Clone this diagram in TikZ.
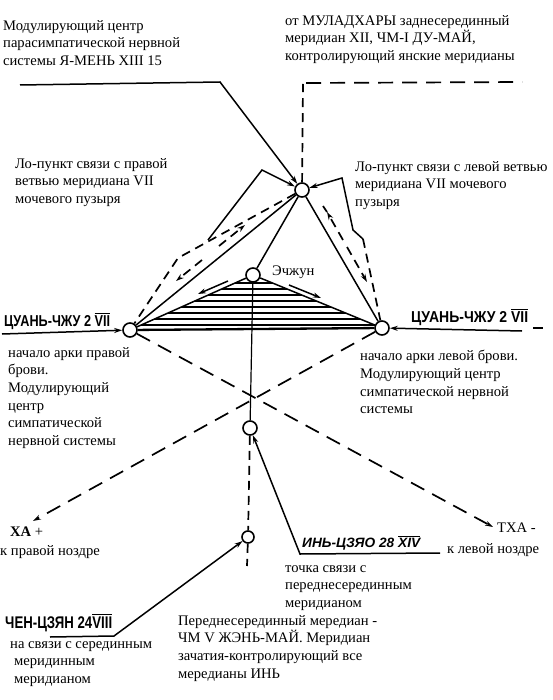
\documentclass[tikz,border=0pt]{standalone}
\usepackage{fontspec}
\usepackage{graphicx}
\setmainfont{Liberation Serif}
\newfontfamily\lblfont{Liberation Sans}
\usetikzlibrary{arrows.meta,backgrounds}
\newcommand{\ovl}[1]{$\overline{\hbox{#1}}$}
\begin{document}
\begin{tikzpicture}[x=1pt,y=-1pt,
  pt/.style={circle,draw,line width=1.6pt,fill=white,minimum size=14pt,inner sep=0pt},
  ln/.style={line width=1.5pt},
  thinln/.style={line width=1.2pt},
  basel/.style={line width=2.3pt},
  dsh/.style={line width=1.7pt,dash pattern=on 9pt off 6pt},
  ldsh/.style={line width=1.7pt,dash pattern=on 15pt off 9pt},
  arr/.style={-{Stealth[length=8pt,width=5pt]}},
  txt/.style={font=\fontsize{14.6}{17.7}\selectfont,align=left,inner sep=0pt,anchor=north west},
  stxt/.style={font=\fontsize{14.6}{17.7}\selectfont,inner sep=0pt,anchor=west},
  lbl/.style={font=\lblfont\bfseries,inner sep=0pt,anchor=south west}
]
\useasboundingbox (0,0) rectangle (553,700);

% points
\node[pt] (T) at (302,190) {};
\node[pt] (E) at (253,275) {};
\node[pt] (L) at (130,330) {};
\node[pt] (R) at (382,328) {};
\node[pt] (M) at (250,428) {};
\node[pt,minimum size=12pt] (B) at (248,537) {};

% hatching
\begin{scope}[on background layer]
  \clip (253,275) -- (130,330) -- (382,328) -- cycle;
  \foreach \yy in {283,289,...,327} \draw[line width=1.3pt] (100,\yy) -- (410,\yy);
\end{scope}

% triangle
\draw[ln] (E) -- (L);
\draw[ln] (E) -- (R);
\draw[basel] (L) -- (R);
\draw[ln] (T) -- (L);
\draw[ln] (T) -- (E);
\draw[ln] (T) -- (R);

% top-left callout
\coordinate (tl0) at (20,85);
\coordinate (tl1) at (220,82);
\draw[ln,arr] (tl0) -- (tl1) -- (T);

% top dashed
\coordinate (tv) at (303,84);
\coordinate (tr1) at (522,82);
\draw[dsh] (T) -- (tv);
\draw[ldsh] (306,83) -- (tr1);

% Lo callouts
\coordinate (ll0) at (208,240);
\coordinate (ll1) at (262,170);
\draw[ln,arr] (ll0) -- (ll1) -- (T);
\coordinate (rl0) at (342,178);
\coordinate (rl1) at (353,230);
\coordinate (rl2) at (363,239);
\draw[ln,arr] (rl2) -- (rl1) -- (rl0) -- (T);
\draw[dsh] (rl2) -- (R);

% outer left dashed
\coordinate (ol) at (178,258);
\draw[dsh] (T) -- (ol) -- (L);

% dashed arrows along T-L
\draw[dsh,arr] (219,246) -- (245,225);
\draw[dsh,arr] (202,260) -- (176,281);
% dashed arrows along T-R
\draw[dsh,arr] (343,240) -- (327,212);
\draw[dsh,arr] (347,247) -- (367,282);
\draw[dsh] (323,206) -- (327,212);

% arrows in triangle
\draw[ln,arr] (228,281) -- (198,294);
\draw[ln,arr] (289,285) -- (321,298);

% side labels
\node[lbl] (cl) at (4,330) {\resizebox{106pt}{14pt}{ЦУАНЬ-ЧЖУ 2 \ovl{VII}}};
\coordinate (cl0) at (2,334);
\draw[ln,arr] (cl0) -- (L);
\node[lbl] (cr) at (411,326) {\resizebox{117pt}{14pt}{ЦУАНЬ-ЧЖУ 2 \ovl{VII}}};
\coordinate (cr0) at (522,331);
\draw[ln,arr] (cr0) -- (R);
\draw[ln] (533,328) -- (543,328);

% X dashed lines
\coordinate (tha) at (493,527);
\draw[ldsh,arr] (L) -- (tha);
\coordinate (ha) at (33,521);
\draw[ldsh,arr] (R) -- (ha);

% vertical
\draw[thinln] (E) -- (M);
\draw[dsh] (M) -- (B);
\coordinate (bv) at (247,566);
\draw[dsh] (B) -- (bv);

% M callout
\coordinate (m1) at (300,554);
\coordinate (m2) at (440,553);
\draw[ln,arr] (m2) -- (m1) -- (M);
\node[lbl] (iny) at (302,550) {\resizebox{118pt}{12pt}{\itshape ИНЬ-ЦЗЯО 28 \ovl{XIV}}};

% B callout
\coordinate (b1) at (114,636);
\coordinate (b2) at (50,637);
\draw[ln,arr] (b2) -- (b1) -- (B);
\node[lbl] (chen) at (5,632) {\resizebox{107pt}{15pt}{ЧЕН-ЦЗЯН 24\ovl{VIII}}};

% texts
\node[txt] (t1) at (3,20) {Модулирующий центр\\парасимпатической нервной\\системы Я-МЕНЬ XIII 15};
\node[txt] (t2) at (285,15) {от МУЛАДХАРЫ заднесерединный\\меридиан XII, ЧМ-I ДУ-МАЙ,\\контролирующий янские меридианы};
\node[txt] (t3) at (15,158) {Ло-пункт связи с правой\\ветвью меридиана VII\\мочевого пузыря};
\node[txt] (t4) at (355,161) {Ло-пункт связи с левой ветвью\\меридиана VII мочевого\\пузыря};
\node[stxt] (t5) at (272,272) {Эчжун};
\node[txt] (t6) at (8,347) {начало арки правой\\брови.\\Модулирующий\\центр\\симпатической\\нервной системы};
\node[txt] (t7) at (360,350) {начало арки левой брови.\\Модулирующий центр\\симпатической нервной\\системы};
\node[stxt] (t8) at (10,532) {\textbf{ХА} +};
\node[stxt] (t9) at (0,552) {к правой ноздре};
\node[stxt] (t10) at (497,528) {ТХА -};
\node[stxt] (t11) at (447,550) {к левой ноздре};
\node[txt] (t12) at (285,565) {точка связи с\\переднесерединным\\меридианом};
\node[txt] (t13) at (178,615) {Переднесерединный мередиан -\\ЧМ V ЖЭНЬ-МАЙ. Меридиан\\зачатия-контролирующий все\\мередианы ИНЬ};
\node[txt] (t14) at (10,641) {на связи с серединным\\\hspace*{4pt}меридинным\\\hspace*{4pt}меридианом};
\end{tikzpicture}
\end{document}
